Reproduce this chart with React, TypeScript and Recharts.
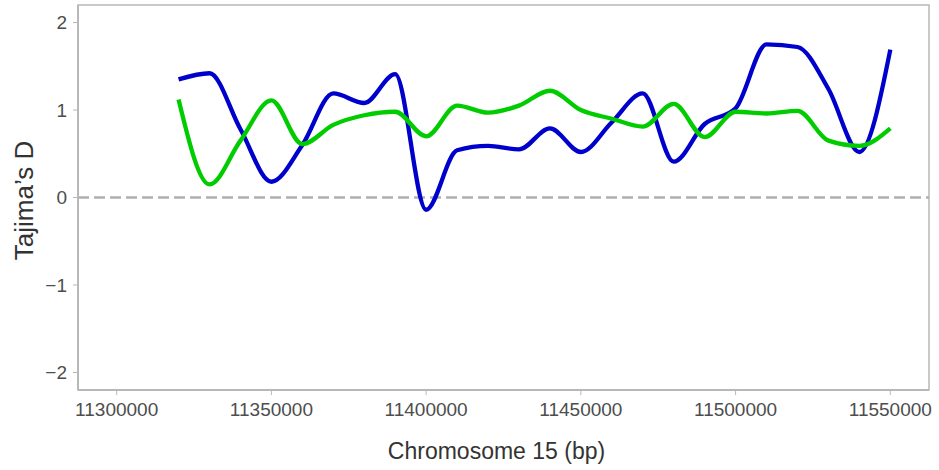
import { LineChart, Line, XAxis, YAxis, ReferenceLine, ReferenceArea } from 'recharts';

// window positions (bp)
const positions = [
  11320000, 11330000, 11340000, 11350000, 11360000, 11370000, 11380000, 11390000,
  11400000, 11410000, 11420000, 11430000, 11440000, 11450000, 11460000, 11470000,
  11480000, 11490000, 11500000, 11510000, 11520000, 11530000, 11540000, 11550000,
];

const blueD = [
  1.35, 1.42, 0.78, 0.18, 0.6, 1.19, 1.08, 1.41,
  -0.14, 0.54, 0.59, 0.55, 0.79, 0.52, 0.86, 1.19,
  0.41, 0.84, 1.02, 1.75, 1.72, 1.24, 0.52, 1.69,
];

const greenD = [
  1.12, 0.15, 0.65, 1.11, 0.61, 0.83, 0.94, 0.98,
  0.7, 1.05, 0.97, 1.05, 1.22, 1.0, 0.9, 0.81,
  1.07, 0.69, 0.98, 0.96, 0.99, 0.65, 0.59, 0.79,
];

const xTicks = [11300000, 11350000, 11400000, 11450000, 11500000, 11550000];
const yTicks = [-2, -1, 0, 1, 2];

const X_DOMAIN: [number, number] = [11287500, 11562500];
const Y_DOMAIN: [number, number] = [-2.2, 2.2];

const data = positions.map((pos, i) => ({ pos, blue: blueD[i], green: greenD[i] }));

const FONT = '"Liberation Sans", Arial, sans-serif';
const FRAME = '#b8b8b8';
const TICK_TXT = '#4d4d4d';

const fmtY = (v: number) => (v < 0 ? `\u2212${Math.abs(v)}` : String(v));

export default function App() {
  return (
    <div style={{ position: 'absolute', left: 0, top: 0, background: '#fff' }}>
      <LineChart
        width={939}
        height={470}
        data={data}
        margin={{ top: 5, right: 10, bottom: 0, left: 0 }}
        style={{ fontFamily: FONT }}
      >
        <ReferenceArea
          x1={X_DOMAIN[0]}
          x2={X_DOMAIN[1]}
          y1={Y_DOMAIN[0]}
          y2={Y_DOMAIN[1]}
          fill="none"
          stroke={FRAME}
          strokeWidth={1.5}
        />
        <XAxis
          dataKey="pos"
          type="number"
          domain={X_DOMAIN}
          allowDataOverflow
          ticks={xTicks}
          height={80}
          tickSize={5}
          tickMargin={8}
          axisLine={{ stroke: FRAME, strokeWidth: 2 }}
          tickLine={{ stroke: FRAME }}
          tick={{ fill: TICK_TXT, fontSize: 19, fontFamily: FONT }}
          label={({ viewBox }: any) => (
            <text
              x={viewBox.x + viewBox.width / 2 - 7}
              y={459}
              textAnchor="middle"
              fill="#333"
              fontSize={23}
              fontFamily={FONT}
            >
              Chromosome 15 (bp)
            </text>
          )}
        />
        <YAxis
          type="number"
          domain={Y_DOMAIN}
          allowDataOverflow
          ticks={yTicks}
          width={78}
          tickSize={5}
          tickMargin={6}
          tickFormatter={fmtY}
          axisLine={{ stroke: FRAME, strokeWidth: 2 }}
          tickLine={{ stroke: FRAME }}
          tick={{ fill: TICK_TXT, fontSize: 19, fontFamily: FONT }}
          label={({ viewBox }: any) => {
            const cx = 33;
            const cy = viewBox.y + viewBox.height / 2 + 3;
            return (
              <text
                x={cx}
                y={cy}
                transform={`rotate(-90 ${cx} ${cy})`}
                textAnchor="middle"
                fill="#333"
                fontSize={26}
                fontFamily={FONT}
              >
                Tajima’s D
              </text>
            );
          }}
        />
        <ReferenceLine y={0} stroke="#b3aeae" strokeWidth={2.5} strokeDasharray="11 5" />
        <Line
          type="monotone"
          dataKey="blue"
          stroke="#0000cc"
          strokeWidth={4.3}
          dot={false}
          isAnimationActive={false}
        />
        <Line
          type="monotone"
          dataKey="green"
          stroke="#00cc00"
          strokeWidth={4.3}
          dot={false}
          isAnimationActive={false}
        />
      </LineChart>
    </div>
  );
}
